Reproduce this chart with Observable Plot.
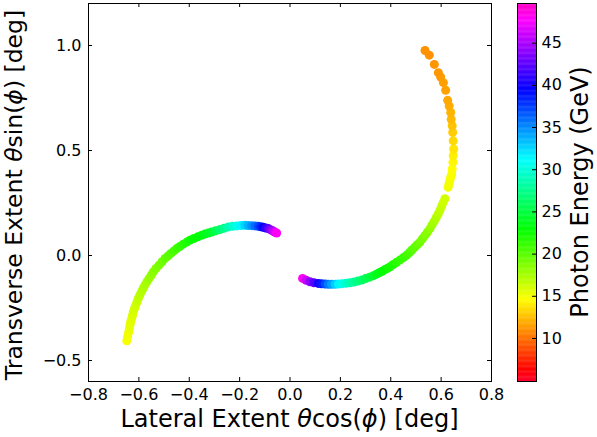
<!DOCTYPE html>
<html><head><meta charset="utf-8">
<script src="https://cdn.jsdelivr.net/npm/d3@7"></script>
<script src="https://cdn.jsdelivr.net/npm/@observablehq/plot@0.6"></script>
<style>
html,body{margin:0;padding:0;background:#fff;}
#chart{position:relative;width:597px;height:437px;}
#chart svg{position:absolute;left:0;top:0;overflow:visible;}
</style></head><body><div id="chart"></div>
<script>
// ---- data ----
const innerX = [-0.648,-0.645,-0.641,-0.638,-0.635,-0.632,-0.628,-0.625,-0.622,-0.617,-0.612,-0.607,-0.602,-0.596,-0.589,-0.583,-0.576,-0.568,-0.560,-0.551,-0.543,-0.532,-0.520,-0.508,-0.496,-0.484,-0.473,-0.461,-0.450,-0.437,-0.424,-0.410,-0.397,-0.382,-0.366,-0.351,-0.338,-0.324,-0.311,-0.295,-0.278,-0.262,-0.245,-0.228,-0.212,-0.195,-0.179,-0.166,-0.152,-0.139,-0.126,-0.116,-0.106,-0.096,-0.086,-0.078,-0.069,-0.061,-0.053];
const innerY = [-0.406,-0.387,-0.368,-0.349,-0.330,-0.314,-0.298,-0.283,-0.267,-0.251,-0.235,-0.220,-0.204,-0.188,-0.172,-0.157,-0.141,-0.125,-0.110,-0.094,-0.078,-0.062,-0.046,-0.030,-0.014,-0.002,0.010,0.022,0.033,0.043,0.054,0.064,0.073,0.081,0.089,0.096,0.102,0.107,0.112,0.118,0.124,0.130,0.136,0.139,0.141,0.143,0.144,0.143,0.142,0.141,0.139,0.137,0.134,0.131,0.128,0.123,0.118,0.112,0.107];
const innerE = [14.8,14.9,15.0,15.2,15.3,15.4,15.5,15.7,15.8,16.0,16.1,16.3,16.5,16.7,16.9,17.1,17.3,17.5,17.8,18.0,18.3,18.6,18.9,19.2,19.5,19.8,20.1,20.5,20.8,21.2,21.6,21.9,22.3,22.6,22.9,23.2,23.6,24.0,24.5,25.4,26.4,27.4,28.5,29.5,30.5,31.5,32.5,33.6,34.7,35.8,37.0,38.2,39.5,40.7,42.0,43.5,45.0,46.5,48.0];

const outerX = [0.050,0.064,0.079,0.095,0.112,0.125,0.139,0.152,0.165,0.179,0.192,0.207,0.223,0.238,0.254,0.269,0.285,0.300,0.316,0.331,0.343,0.354,0.366,0.377,0.387,0.397,0.410,0.423,0.437,0.450,0.463,0.474,0.484,0.495,0.505,0.516,0.526,0.536,0.546,0.556,0.564,0.573,0.581,0.589,0.596,0.602,0.608,0.615,0.628,0.631,0.635,0.638,0.642,0.644,0.647,0.648,0.650,0.648,0.646,0.644,0.640,0.638,0.632,0.626,0.618,0.609,0.598,0.589,0.573,0.553,0.536];
const outerY = [-0.109,-0.118,-0.125,-0.130,-0.133,-0.135,-0.136,-0.137,-0.137,-0.137,-0.136,-0.134,-0.132,-0.130,-0.126,-0.122,-0.117,-0.110,-0.103,-0.096,-0.089,-0.082,-0.075,-0.067,-0.061,-0.054,-0.043,-0.032,-0.021,-0.010,0.001,0.014,0.026,0.039,0.051,0.064,0.080,0.096,0.112,0.128,0.146,0.164,0.181,0.199,0.217,0.235,0.252,0.270,0.325,0.341,0.357,0.373,0.389,0.412,0.444,0.475,0.507,0.546,0.586,0.618,0.649,0.681,0.712,0.739,0.787,0.823,0.850,0.870,0.910,0.954,0.976];
const outerE = [48.0,46.0,44.0,42.0,40.0,38.5,37.0,35.5,34.2,32.8,31.5,30.5,29.5,28.5,27.8,27.0,26.3,25.6,24.9,24.3,23.8,23.4,23.0,22.7,22.4,22.2,21.9,21.6,21.3,21.0,20.7,20.4,20.1,19.8,19.5,19.2,18.9,18.6,18.3,18.0,17.7,17.4,17.1,16.8,16.6,16.4,16.2,16.0,15.0,14.95,14.9,14.8,14.7,14.5,14.3,14.0,13.7,13.3,12.9,12.6,12.3,12.1,11.9,11.7,11.5,11.4,11.3,11.2,11.1,11.0,11.0];

const xTicks = [-0.8,-0.6,-0.4,-0.2,0.0,0.2,0.4,0.6,0.8];
const yTicks = [-0.5,0.0,0.5,1.0];
const cbTicks = [10,15,20,25,30,35,40,45];
const eDomain = [4.9, 49.7];

const points = [
  ...innerX.map((x, i) => ({x, y: innerY[i], e: innerE[i]})),
  ...outerX.map((x, i) => ({x, y: outerY[i], e: outerE[i]}))
];

// matplotlib gist_rainbow colormap
const gistStops = [[0,[1,0,0.16]],[0.03,[1,0,0]],[0.215,[1,1,0]],[0.4,[0,1,0]],[0.586,[0,1,1]],[0.77,[0,0,1]],[0.954,[1,0,1]],[1,[1,0,0.75]]];
function gistRainbow(t) {
  t = Math.max(0, Math.min(1, t));
  let i = 0;
  while (i < gistStops.length - 2 && t > gistStops[i + 1][0]) i++;
  const [t0, c0] = gistStops[i], [t1, c1] = gistStops[i + 1];
  const f = (t - t0) / (t1 - t0);
  const c = c0.map((v, k) => Math.round(255 * (v + (c1[k] - v) * f)));
  return `rgb(${c[0]},${c[1]},${c[2]})`;
}

const fmt = d => d.toFixed(1).replace("-", "\u2212");
const W = 597, H = 437;
const mT = 3, mB = 56;
const frameH = H - mT - mB;
const mainL = 88, mainR = 106;
const frameW = W - mainL - mainR;
const font = {fontFamily: "DejaVu Sans", fontSize: "16px", color: "#000", background: "transparent", overflow: "visible"};

const main = Plot.plot({
  width: W, height: H,
  marginLeft: mainL, marginRight: mainR, marginTop: mT, marginBottom: mB,
  style: font,
  x: {domain: [-0.8, 0.8]},
  y: {domain: [-0.6, 1.2]},
  color: {type: "linear", domain: eDomain, interpolate: gistRainbow},
  marks: [
    Plot.dot(points, {x: "x", y: "y", fill: "e", r: 4.5}),
    Plot.ruleX(xTicks, {x: d => d, insetTop: frameH - 4, stroke: "#000"}),
    Plot.ruleX(xTicks, {x: d => d, insetBottom: frameH - 4, stroke: "#000"}),
    Plot.ruleY(yTicks, {y: d => d, insetRight: frameW - 4, stroke: "#000"}),
    Plot.ruleY(yTicks, {y: d => d, insetLeft: frameW - 4, stroke: "#000"}),
    Plot.frame({stroke: "#000"}),
    Plot.axisX({anchor: "bottom", ticks: xTicks, tickSize: 0, tickPadding: 7, tickFormat: fmt, label: null}),
    Plot.axisY({anchor: "left", ticks: yTicks, tickSize: 0, tickPadding: 7, tickFormat: fmt, label: null})
  ]
});

const cbL = 517, cbR = 61;
const cbW = W - cbL - cbR;
const cbSteps = d3.range(eDomain[0], eDomain[1], 0.1);
const colorbar = Plot.plot({
  width: W, height: H,
  marginLeft: cbL, marginRight: cbR, marginTop: mT, marginBottom: mB,
  style: font,
  x: {domain: [0, 1], axis: null},
  y: {domain: eDomain},
  color: {type: "linear", domain: eDomain, interpolate: gistRainbow},
  marks: [
    Plot.rect(cbSteps, {x1: 0, x2: 1, y1: d => d, y2: d => Math.min(d + 0.15, eDomain[1]), fill: d => d}),
    Plot.ruleY(cbTicks, {y: d => d, insetLeft: cbW - 4, stroke: "#000"}),
    Plot.frame({stroke: "#000"}),
    Plot.axisY({anchor: "right", ticks: cbTicks, tickSize: 0, tickPadding: 5, tickFormat: d => String(d), label: null})
  ]
});

const chart = document.getElementById("chart");
chart.appendChild(main);
chart.appendChild(colorbar);

function addLabel(svg, x, y, rot, size, parts) {
  const t = d3.select(svg).append("text")
    .attr("transform", `translate(${x},${y})` + (rot ? ` rotate(${rot})` : ""))
    .attr("text-anchor", "middle")
    .attr("font-family", "DejaVu Sans")
    .attr("font-size", size)
    .attr("fill", "#000")
    .style("white-space", "pre");
  parts.forEach(([s, it]) => t.append("tspan").attr("font-style", it ? "italic" : null).text(s));
}
addLabel(main, mainL + frameW / 2, 427, 0, "24px", [["Lateral Extent "], ["\u03B8", true], ["cos("], ["\u03D5", true], [") [deg]"]]);
addLabel(main, 22, 195, -90, "23.5px", [["Transverse Extent "], ["\u03B8", true], ["sin("], ["\u03D5", true], [") [deg]"]]);
addLabel(colorbar, 588, mT + frameH / 2, -90, "24px", [["Photon Energy (GeV)"]]);
</script></body></html>
